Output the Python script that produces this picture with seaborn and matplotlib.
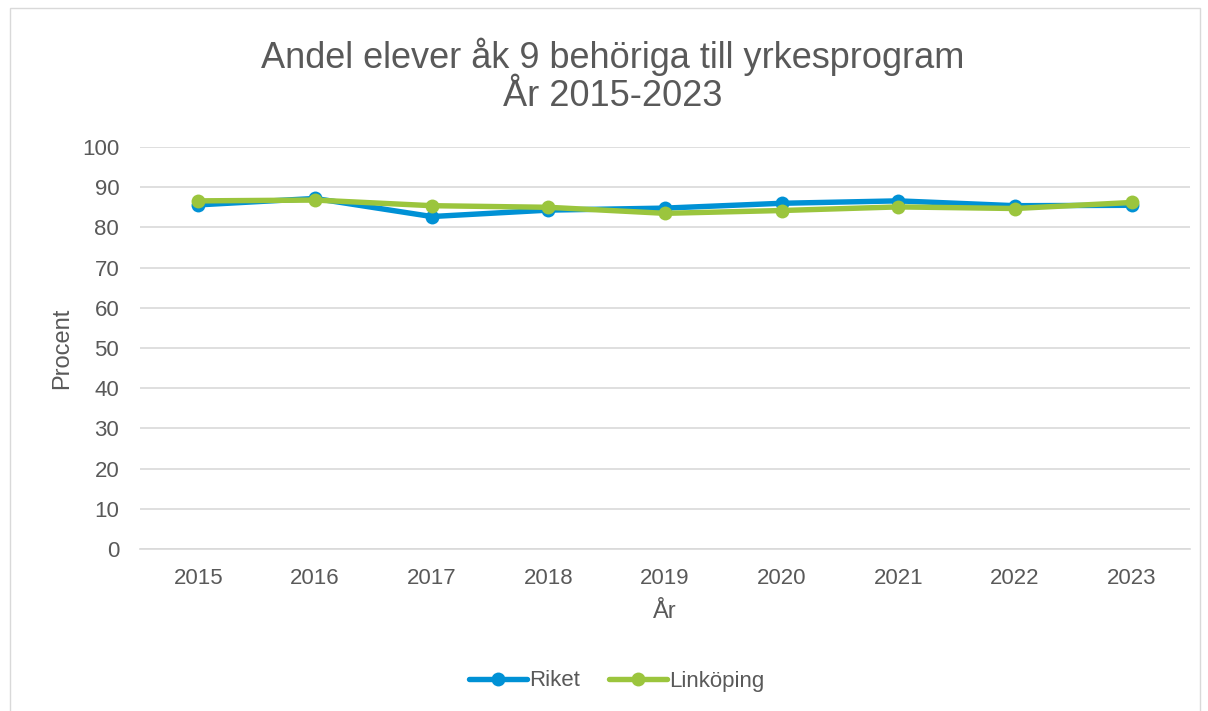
import pandas as pd
import seaborn as sns
import matplotlib.pyplot as plt
from matplotlib.patches import Rectangle

years = ['2015', '2016', '2017', '2018', '2019', '2020', '2021', '2022', '2023']
riket = [85.6, 87.2, 82.7, 84.3, 84.8, 86.0, 86.6, 85.4, 85.5]
linkoping = [86.6, 86.8, 85.4, 85.0, 83.5, 84.2, 85.1, 84.7, 86.2]

df = pd.concat([
    pd.DataFrame({'År': years, 'Procent': riket, 'serie': 'Riket'}),
    pd.DataFrame({'År': years, 'Procent': linkoping, 'serie': 'Linköping'}),
])

sns.set_style("white")
plt.rcParams['font.family'] = ['Liberation Sans', 'DejaVu Sans']
grey = '#595959'

fig = plt.figure(figsize=(12.08, 7.11), dpi=100)
ax = fig.add_axes([140 / 1208, 1 - 549 / 711, 1050 / 1208, 402 / 711])

sns.lineplot(x='År', y='Procent', hue='serie', data=df, ax=ax,
             palette={'Riket': '#0091d5', 'Linköping': '#9bc53d'},
             linewidth=3.9, marker='o', markersize=10, markeredgewidth=0,
             sort=False)

ax.set_xlim(-0.5, 8.5)
ax.set_ylim(0, 100)
ax.set_yticks(range(0, 101, 10))
ax.grid(axis='y', color='#d9d9d9', linewidth=1.2)
ax.set_axisbelow(True)
for s in ['top', 'right', 'left']:
    ax.spines[s].set_visible(False)
ax.spines['bottom'].set_color('#d9d9d9')
ax.spines['bottom'].set_linewidth(1.2)
ax.tick_params(axis='both', colors=grey, labelsize=16, length=0)
ax.tick_params(axis='y', pad=15)
ax.tick_params(axis='x', pad=14)

ax.set_xlabel('År', color=grey, fontsize=17, labelpad=8)
ax.set_ylabel('Procent', color=grey, fontsize=17, labelpad=6)

fig.text(613 / 1208, 1 - 76 / 711, 'Andel elever åk 9 behöriga till yrkesprogram\nÅr 2015-2023',
         ha='center', va='center', fontsize=26, color=grey, linespacing=1.12)

ax.legend(loc='center', bbox_to_anchor=(617 / 1208, 1 - 681 / 711),
          bbox_transform=fig.transFigure, ncol=2, frameon=False,
          fontsize=16, labelcolor=grey, handlelength=2.6, columnspacing=1.3,
          handletextpad=0.1)

fig.patches.append(Rectangle((10 / 1208, -0.01), 1190 / 1208, 1 - 8 / 711 + 0.01,
                             transform=fig.transFigure, fill=False,
                             edgecolor='#d9d9d9', linewidth=1))

plt.savefig('out.png', dpi=100)
